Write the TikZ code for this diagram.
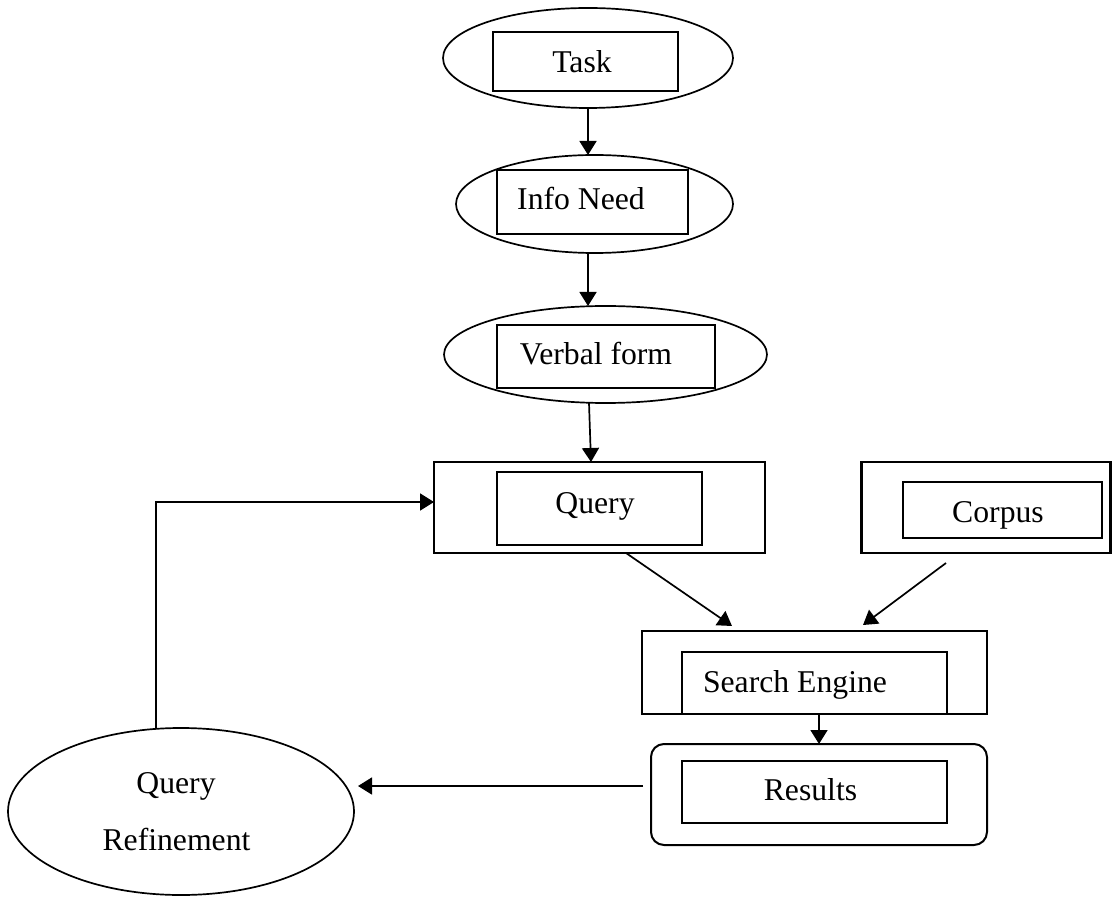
\documentclass[tikz,border=0pt]{standalone}
\usepackage{fontspec}
\setmainfont{Liberation Serif}
\usetikzlibrary{shapes.geometric,arrows.meta,calc}
\begin{document}
\begin{tikzpicture}[x=0.5pt,y=-0.5pt,
  every node/.style={inner sep=0pt,outer sep=0pt},
  oval/.style={draw,ellipse,line width=0.85pt},
  outerbox/.style={draw,rectangle,line width=1.1pt},
  innerbox/.style={draw,rectangle,line width=1.1pt},
  roundbox/.style={draw,rectangle,rounded corners=6.5pt,line width=1pt},
  lbl/.style={anchor=base,font=\fontsize{15.85}{19}\selectfont},
  arr/.style={-{Triangle[length=7pt,width=8.5pt]},line width=0.85pt}]
\useasboundingbox (0,0) rectangle (1112,897);

% Task
\node[oval,minimum width=145pt,minimum height=50pt] (task) at (588,58) {};
\node[innerbox,minimum width=92.5pt,minimum height=29.5pt] (taskbox) at (585.5,61.5) {};
\node[lbl] (tasktxt) at (582,73) {Task};

% Info need
\node[oval,minimum width=138.5pt,minimum height=49pt] (info) at (594.5,204) {};
\node[innerbox,minimum width=95.5pt,minimum height=32pt] (infobox) at (592.5,202) {};
\node[lbl] (infotxt) at (581,210) {Info Need};

% Verbal form
\node[oval,minimum width=161.5pt,minimum height=48.5pt] (verbal) at (605.5,354.5) {};
\node[innerbox,minimum width=109pt,minimum height=31.5pt] (verbalbox) at (606,356.5) {};
\node[lbl] (verbaltxt) at (596,365) {Verbal form};

% Query
\node[outerbox,minimum width=165.5pt,minimum height=45.5pt] (qouter) at (599.5,507.5) {};
\node[innerbox,minimum width=102.5pt,minimum height=36.5pt] (qinner) at (599.5,508.5) {};
\node[lbl] (qtxt) at (595,513) {Query};

% Corpus
\node[outerbox,minimum width=124.5pt,minimum height=45.5pt] (couter) at (986,507.5) {};
\node[innerbox,minimum width=99.5pt,minimum height=28pt] (cinner) at (1002.5,510) {};
\node[lbl] (ctxt) at (998,522) {Corpus};

% Search engine
\node[outerbox,minimum width=172.5pt,minimum height=41.5pt] (seouter) at (814.5,672.5) {};
\node[innerbox,minimum width=132.5pt,minimum height=31pt] (seinner) at (814.5,683) {};
\node[lbl] (setxt) at (795,692) {Search Engine};

% Results
\node[roundbox,minimum width=168pt,minimum height=50.5pt] (rout) at (819,794.5) {};
\node[innerbox,minimum width=132.5pt,minimum height=31pt] (rinner) at (814.5,792) {};
\node[lbl] (rtxt) at (810.5,800) {Results};

% Query refinement
\node[oval,minimum width=173pt,minimum height=83.5pt] (qr) at (181,811.5) {};
\node[lbl] (qrtxt1) at (176,793) {Query};
\node[lbl] (qrtxt2) at (176.5,850) {Refinement};

% Connectors
\draw[arr] (task.south) -- (task.south |- info.north);
\draw[arr] (info.south -| task.south) -- (verbal.north -| task.south);
\draw[arr] ($(verbal.south)+(-16.5,0)$) -- ($(qouter.north)+(-8.5,0)$);
\draw[arr] ($(qouter.south)+(26.5,0)$) -- ($(seouter.north)+(-82.5,-5)$);
\draw[arr] ($(couter.south)+(-40,10)$) -- ($(seouter.north)+(48.5,-6)$);
\draw[arr] ($(seouter.south)+(4.5,0)$) -- (rout.north);
\draw[arr] ($(rout.west)+(-8,-8.5)$) -- ($(qr.east)+(4,-25.5)$);
\draw[arr] ($(qr.north)+(-25,0)$) |- ($(qouter.west)+(0,-5.5)$);
\end{tikzpicture}
\end{document}
